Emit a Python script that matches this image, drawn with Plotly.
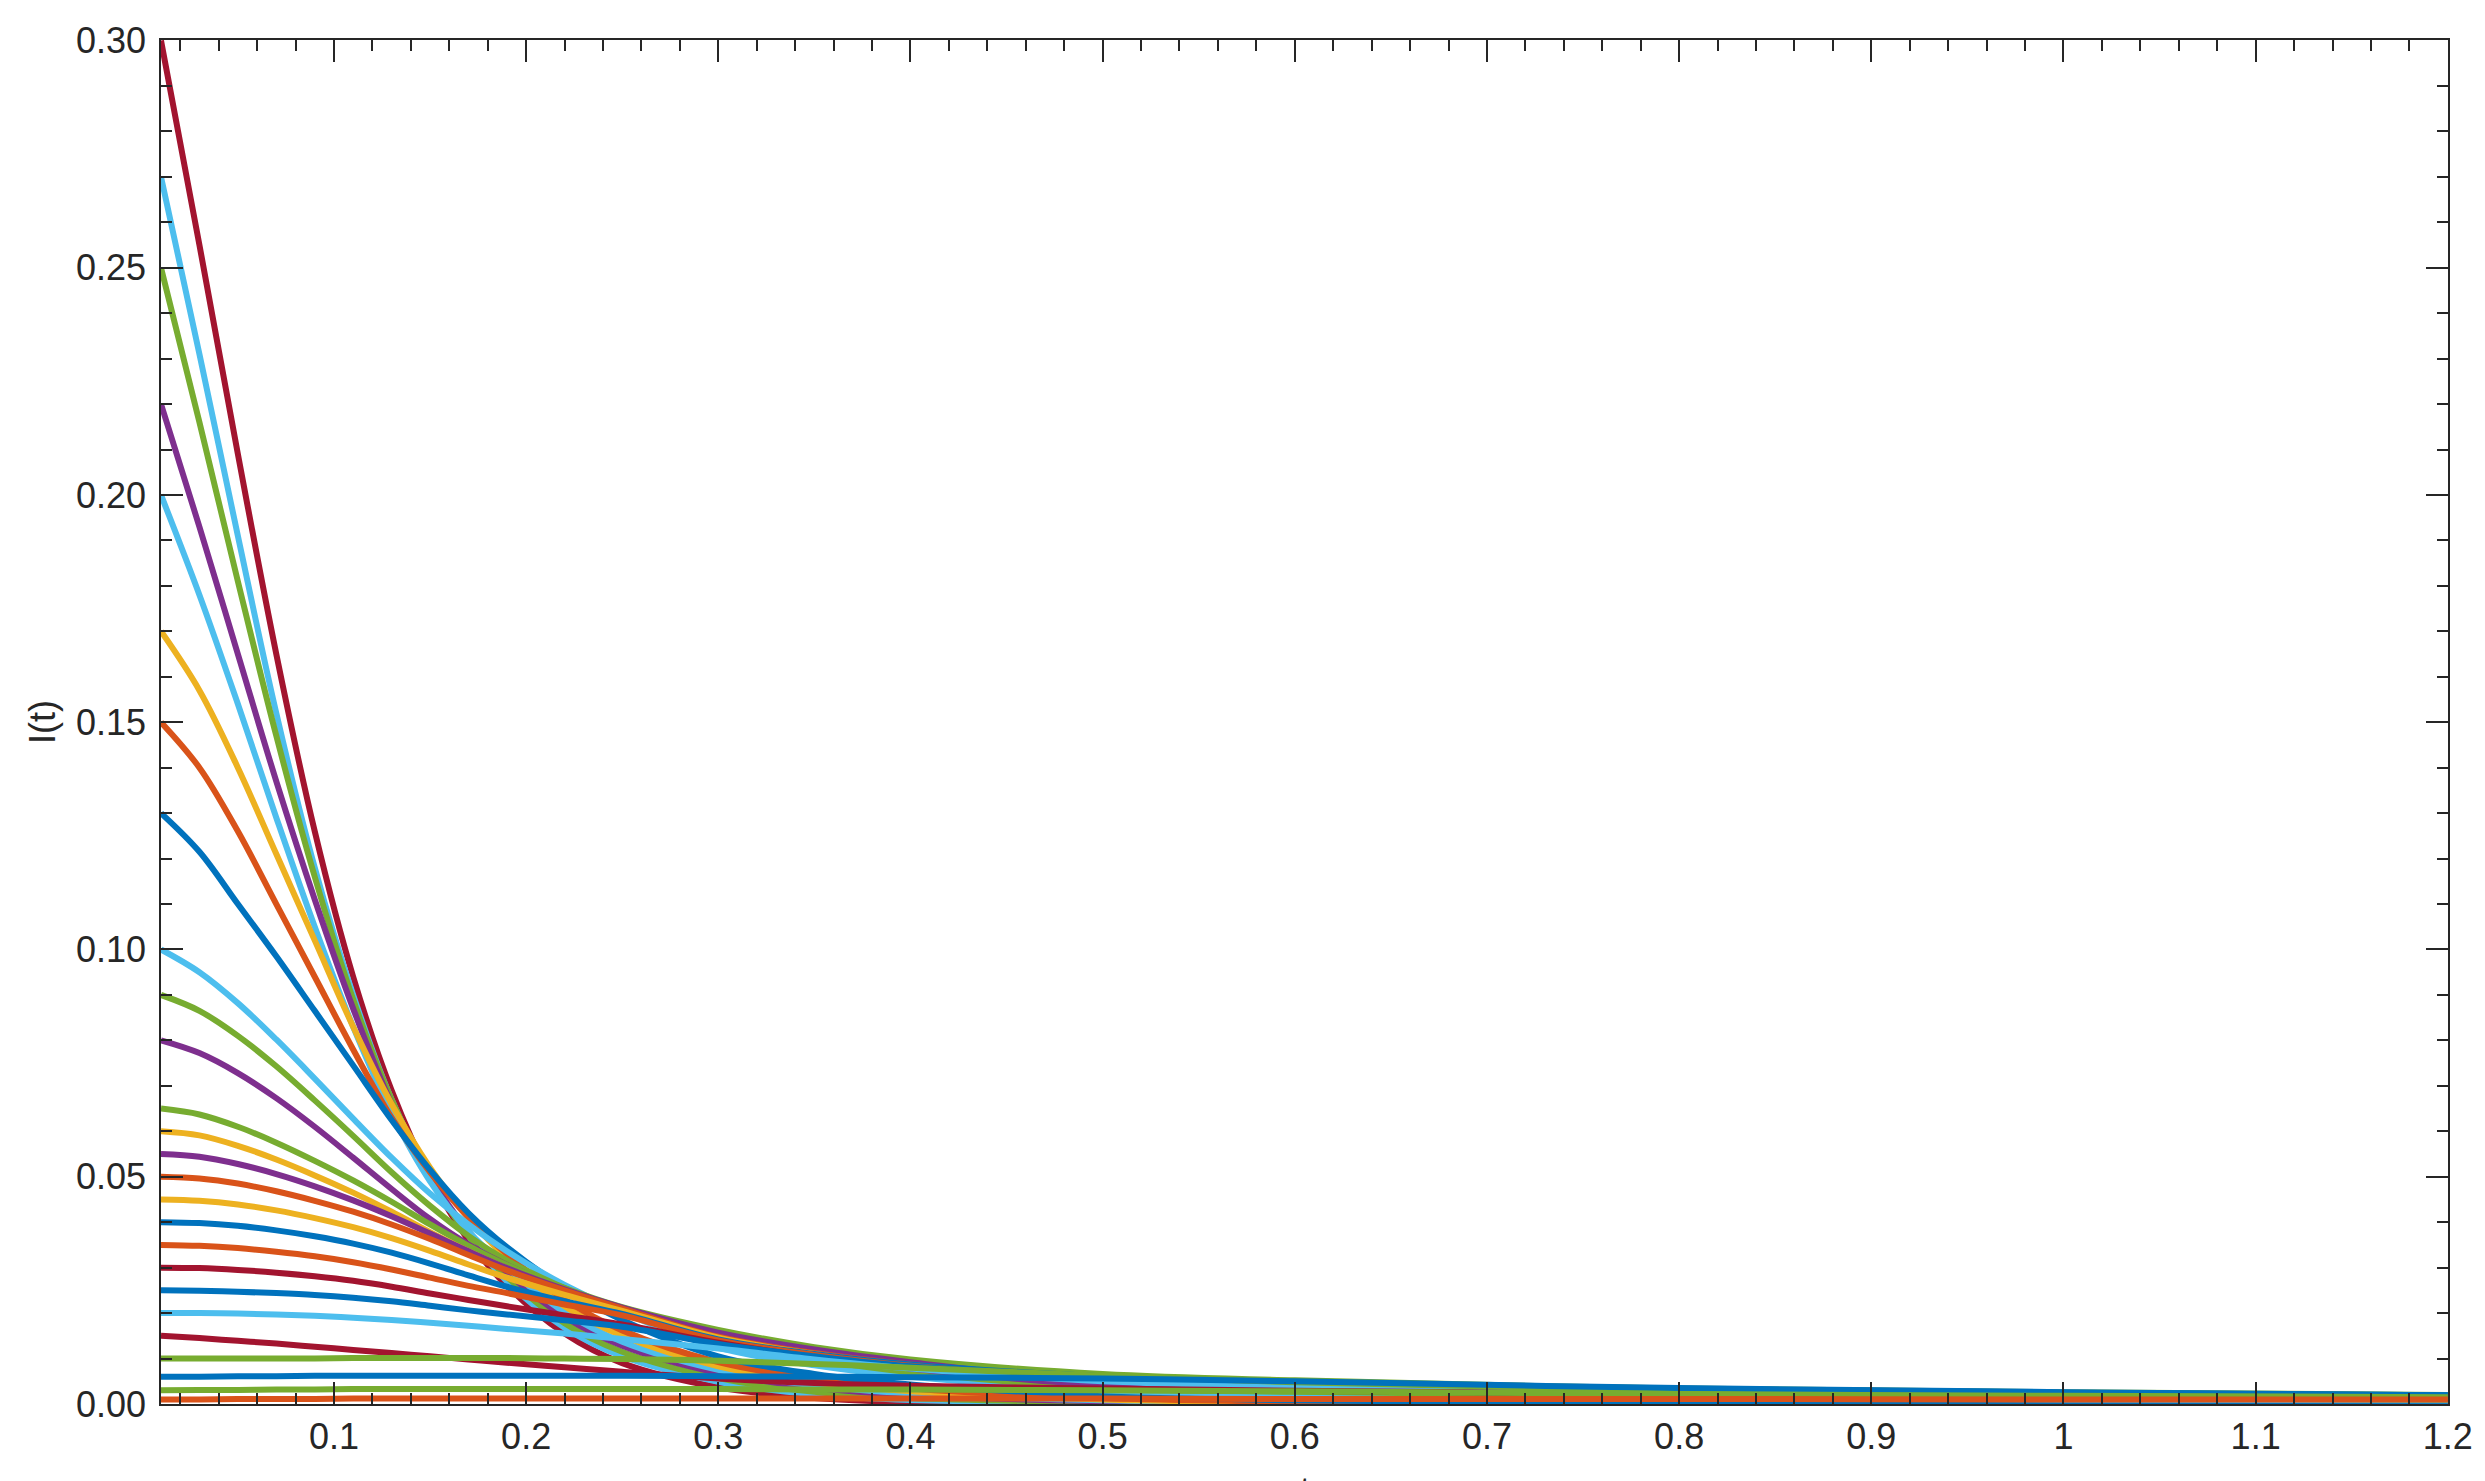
import plotly.graph_objects as go

# sample times (x axis)
t = [0.01, 0.03, 0.05, 0.07, 0.09, 0.11, 0.13, 0.15, 0.17, 0.19, 0.22, 0.25, 0.3, 0.35, 0.4, 0.5, 0.6, 0.8, 1.0, 1.2]

# I(t) curves, named by starting value
i_300 = [0.300, 0.255, 0.209, 0.165, 0.126, 0.094, 0.069, 0.050, 0.036, 0.026, 0.0155, 0.0090, 0.0037, 0.0013, 0.0004, 0.0001, 0.0, 0.0, 0.0, 0.0]
i_270 = [0.270, 0.231, 0.191, 0.152, 0.118, 0.090, 0.067, 0.050, 0.037, 0.027, 0.0168, 0.0105, 0.0049, 0.0021, 0.0009, 0.0003, 0.0002, 0.0001, 0.0001, 0.0001]
i_250 = [0.250, 0.216, 0.181, 0.147, 0.116, 0.089, 0.067, 0.050, 0.037, 0.028, 0.0178, 0.0115, 0.0057, 0.0027, 0.0013, 0.0004, 0.0002, 0.0001, 0.0001, 0.0]
i_220 = [0.220, 0.193, 0.165, 0.137, 0.111, 0.087, 0.066, 0.050, 0.038, 0.029, 0.0192, 0.0128, 0.0068, 0.0036, 0.0019, 0.0006, 0.0002, 0.0001, 0.0, 0.0]
i_200 = [0.200, 0.178, 0.154, 0.129, 0.105, 0.083, 0.064, 0.049, 0.038, 0.030, 0.0202, 0.0137, 0.0075, 0.0041, 0.0023, 0.0008, 0.0003, 0.0001, 0.0001, 0.0001]
i_170 = [0.170, 0.157, 0.140, 0.121, 0.102, 0.083, 0.066, 0.052, 0.041, 0.032, 0.0215, 0.0150, 0.0083, 0.0048, 0.0028, 0.0010, 0.0004, 0.0001, 0.0, 0.0]
i_150 = [0.150, 0.140, 0.126, 0.110, 0.094, 0.078, 0.063, 0.051, 0.041, 0.033, 0.0230, 0.0162, 0.0092, 0.0055, 0.0034, 0.0013, 0.0005, 0.0001, 0.0, 0.0]
i_130 = [0.130, 0.1215, 0.110, 0.0985, 0.0865, 0.0745, 0.0625, 0.0515, 0.0420, 0.0345, 0.0255, 0.0185, 0.0105, 0.0066, 0.0043, 0.0019, 0.0008, 0.0002, 0.0001, 0.0]
i_100 = [0.100, 0.0950, 0.0882, 0.0802, 0.0716, 0.0628, 0.0542, 0.0463, 0.0395, 0.0336, 0.0262, 0.0202, 0.0124, 0.0085, 0.0060, 0.0030, 0.0022, 0.0014, 0.0010, 0.0008]
i_090 = [0.090, 0.0865, 0.0810, 0.0743, 0.0668, 0.0590, 0.0510, 0.0436, 0.0370, 0.0316, 0.0255, 0.0203, 0.0135, 0.0098, 0.0070, 0.0036, 0.0027, 0.0018, 0.0013, 0.0010]
i_080 = [0.080, 0.0772, 0.0728, 0.0673, 0.0610, 0.0542, 0.0473, 0.0407, 0.0351, 0.0306, 0.0252, 0.0205, 0.0145, 0.0105, 0.0078, 0.0042, 0.0032, 0.0021, 0.0016, 0.0012]
i_065 = [0.065, 0.0637, 0.0610, 0.0575, 0.0535, 0.0492, 0.0445, 0.0395, 0.0348, 0.0306, 0.0255, 0.0213, 0.0163, 0.0125, 0.0098, 0.0066, 0.0052, 0.0034, 0.0026, 0.0020]
i_060 = [0.060, 0.0591, 0.0568, 0.0538, 0.0503, 0.0465, 0.0423, 0.0378, 0.0336, 0.0298, 0.0250, 0.0208, 0.0152, 0.0115, 0.0088, 0.0052, 0.0041, 0.0027, 0.0020, 0.0015]
i_055 = [0.055, 0.0544, 0.0528, 0.0506, 0.0479, 0.0448, 0.0413, 0.0375, 0.0336, 0.0299, 0.0252, 0.0212, 0.0157, 0.0120, 0.0092, 0.0048, 0.0037, 0.0024, 0.0018, 0.0013]
i_050 = [0.050, 0.0496, 0.0485, 0.0468, 0.0447, 0.0423, 0.0395, 0.0363, 0.0328, 0.0294, 0.0250, 0.0210, 0.0148, 0.0112, 0.0087, 0.0057, 0.0044, 0.0029, 0.0022, 0.0017]
i_045 = [0.045, 0.0447, 0.0439, 0.0426, 0.0409, 0.0389, 0.0365, 0.0337, 0.0307, 0.0278, 0.0240, 0.0205, 0.0146, 0.0110, 0.0085, 0.0053, 0.0041, 0.0027, 0.0020, 0.0015]
i_040 = [0.040, 0.0398, 0.0392, 0.0382, 0.0369, 0.0353, 0.0333, 0.0309, 0.0283, 0.0258, 0.0226, 0.0198, 0.0142, 0.0110, 0.0087, 0.0061, 0.0048, 0.0033, 0.0025, 0.0019]
i_035 = [0.035, 0.0348, 0.0343, 0.0335, 0.0325, 0.0312, 0.0296, 0.0278, 0.0260, 0.0244, 0.0219, 0.0195, 0.0140, 0.0108, 0.0084, 0.0055, 0.0043, 0.0029, 0.0022, 0.0017]
i_030 = [0.030, 0.0299, 0.0295, 0.0289, 0.0281, 0.0271, 0.0258, 0.0243, 0.0229, 0.0215, 0.0195, 0.0175, 0.0135, 0.0103, 0.0080, 0.0054, 0.0042, 0.0028, 0.0021, 0.0016]
i_025 = [0.025, 0.0249, 0.0247, 0.0244, 0.0240, 0.0234, 0.0226, 0.0216, 0.0206, 0.0197, 0.0184, 0.0170, 0.0132, 0.0105, 0.0083, 0.0058, 0.0045, 0.0030, 0.0023, 0.0018]
i_020 = [0.020, 0.0200, 0.0199, 0.0197, 0.0194, 0.0190, 0.0185, 0.0179, 0.0172, 0.0165, 0.0155, 0.0143, 0.0122, 0.0098, 0.0078, 0.0050, 0.0039, 0.0026, 0.0020, 0.0015]
i_015 = [0.015, 0.0145, 0.0139, 0.0133, 0.0126, 0.0119, 0.0112, 0.0105, 0.0098, 0.0091, 0.0081, 0.0071, 0.0056, 0.0046, 0.0040, 0.0034, 0.0029, 0.0022, 0.0017, 0.0013]
i_010 = [0.0100, 0.0100, 0.0100, 0.0100, 0.0100, 0.0101, 0.0101, 0.0101, 0.0101, 0.0101, 0.0100, 0.0099, 0.0095, 0.0088, 0.0080, 0.0062, 0.0048, 0.0031, 0.0023, 0.0017]
i_006 = [0.0060, 0.0060, 0.0061, 0.0061, 0.0062, 0.0062, 0.0062, 0.0062, 0.0062, 0.0062, 0.0062, 0.0062, 0.0061, 0.0060, 0.0059, 0.0056, 0.0050, 0.0035, 0.0026, 0.0019]
i_003 = [0.0030, 0.0031, 0.0031, 0.0032, 0.0032, 0.0033, 0.0033, 0.0033, 0.0033, 0.0033, 0.0033, 0.0033, 0.0033, 0.0032, 0.0032, 0.0030, 0.0028, 0.0022, 0.0018, 0.0015]
i_001 = [0.0010, 0.0010, 0.0011, 0.0011, 0.0011, 0.0012, 0.0012, 0.0012, 0.0012, 0.0012, 0.0012, 0.0012, 0.0012, 0.0012, 0.0012, 0.0012, 0.0011, 0.0011, 0.0010, 0.0010]

x_ticks = [0.1, 0.2, 0.3, 0.4, 0.5, 0.6, 0.7, 0.8, 0.9, 1.0, 1.1, 1.2]
y_ticks = [0.00, 0.05, 0.10, 0.15, 0.20, 0.25, 0.30]

# matlab default colour order
blue = '#0072BD'
orange = '#D95319'
yellow = '#EDB120'
purple = '#7E2F8E'
green = '#77AC30'
ltblue = '#4DBEEE'
dkred = '#A2142F'

curves = [(i_300, dkred), (i_270, ltblue), (i_250, green), (i_220, purple), (i_200, ltblue),
          (i_170, yellow), (i_150, orange), (i_130, blue), (i_100, ltblue), (i_090, green),
          (i_080, purple), (i_065, green), (i_060, yellow), (i_055, purple), (i_050, orange),
          (i_045, yellow), (i_040, blue), (i_035, orange), (i_030, dkred), (i_025, blue),
          (i_020, ltblue), (i_015, dkred), (i_010, green), (i_006, blue), (i_003, green), (i_001, orange)]

axis_col = '#262626'
fnt = 'Liberation Sans, Arial, sans-serif'

fig = go.Figure()
for vals, col in curves:
  fig.add_trace(go.Scatter(x = t, y = vals, mode = 'lines', line = dict(color = col, width = 6, shape = 'spline', smoothing = 1.0),
                  showlegend = False, hoverinfo = 'skip'))

fig.update_xaxes(range = [0.01, 1.2001], tickmode = 'array', tickvals = x_ticks, ticktext = ['%g' % v for v in x_ticks],
           ticks = 'inside', ticklen = 22, tickwidth = 1.5, tickcolor = axis_col,
           showline = True, linecolor = axis_col, linewidth = 1.5, mirror = 'ticks',
           showgrid = False, zeroline = False, automargin = False,
           tickfont = dict(family = fnt, size = 36, color = axis_col),
           minor = dict(tickmode = 'linear', tick0 = 0, dtick = 0.02, ticks = 'inside', ticklen = 11,
                        tickwidth = 1.5, tickcolor = axis_col, showgrid = False))

fig.update_yaxes(range = [0, 0.3001], tickmode = 'array', tickvals = y_ticks, ticktext = ['%.2f' % v for v in y_ticks],
           ticks = 'inside', ticklen = 22, tickwidth = 1.5, tickcolor = axis_col,
           showline = True, linecolor = axis_col, linewidth = 1.5, mirror = 'ticks',
           showgrid = False, zeroline = False, automargin = False, ticklabelstandoff = 6,
           tickfont = dict(family = fnt, size = 36, color = axis_col),
           title = dict(text = 'I(t)', font = dict(family = fnt, size = 36, color = axis_col), standoff = 9),
           minor = dict(tickmode = 'linear', tick0 = 0, dtick = 0.01, ticks = 'inside', ticklen = 11,
                        tickwidth = 1.5, tickcolor = axis_col, showgrid = False))

# x label sits mostly below the bottom edge of the page, only its top shows
fig.add_annotation(text = 't', xref = 'paper', yref = 'paper', x = 0.5, y = -0.047, xanchor = 'center', yanchor = 'top',
           showarrow = False, font = dict(family = fnt, size = 36, color = axis_col))

# page body has an 8px default margin, so margins are trimmed by that
fig.update_layout(width = 2485, height = 1481, margin = dict(l = 153, r = 45, t = 32, b = 85),
           plot_bgcolor = 'white', paper_bgcolor = 'white', showlegend = False)

fig.write_html("out.html")
